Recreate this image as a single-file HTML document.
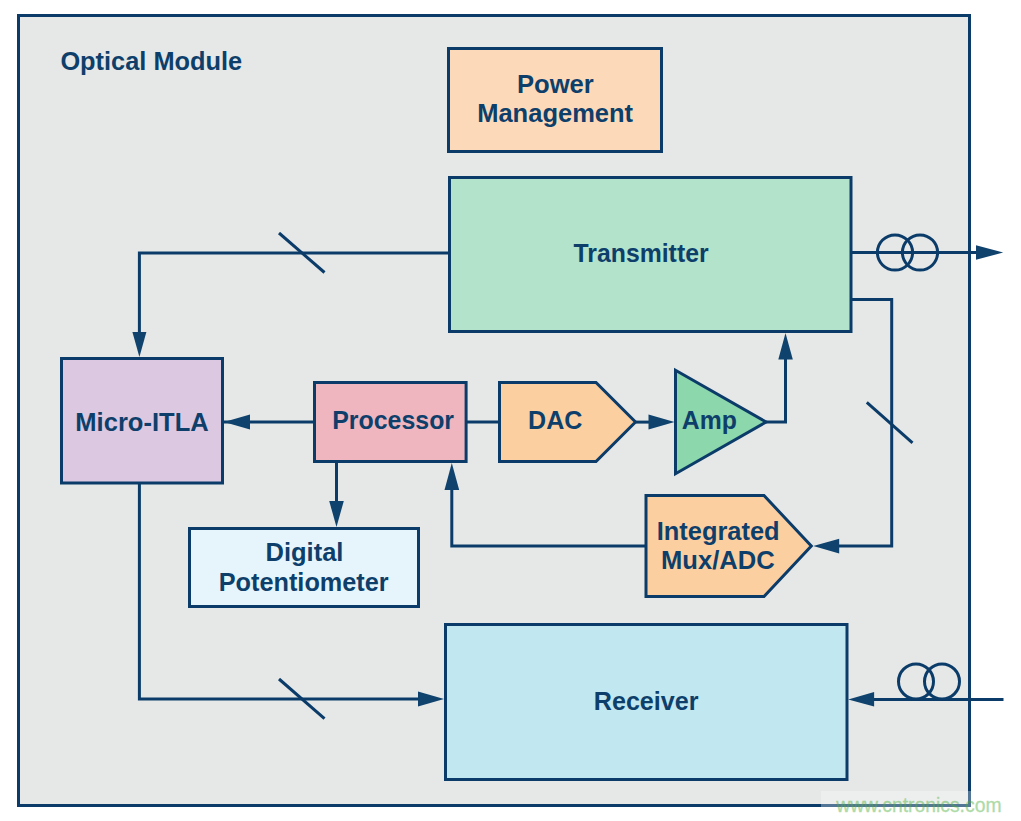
<!DOCTYPE html>
<html><head><meta charset="utf-8">
<style>
html,body{margin:0;padding:0;background:#fff;}
body{width:1021px;height:821px;overflow:hidden;position:relative;}
svg{position:absolute;left:0;top:0;}
text{font-family:"Liberation Sans",sans-serif;font-weight:bold;fill:#0e3f6b;}
</style></head><body>
<svg width="1021" height="821" viewBox="0 0 1021 821">
<g stroke="#0b3c69" stroke-width="3" stroke-linejoin="miter" fill="none">
  <!-- outer frame -->
  <rect x="18.5" y="15.5" width="951" height="790" fill="#e6e8e8"/>
  <!-- boxes -->
  <rect x="448.5" y="48.5" width="213" height="103" fill="#fcdab9"/>
  <rect x="449.5" y="177.5" width="401.5" height="154" fill="#b3e4cb"/>
  <rect x="61.5" y="358.5" width="161" height="124.5" fill="#dcc8e0"/>
  <rect x="314.5" y="382.5" width="151.6" height="79" fill="#efb6c0"/>
  <path d="M499.5,382.5 L596,382.5 L635.5,422 L596,461.5 L499.5,461.5 Z" fill="#fccfa1"/>
  <path d="M675.5,370.3 L766.2,422 L675.5,473.7 Z" fill="#8cd7ab"/>
  <rect x="189.5" y="528.5" width="229" height="78" fill="#e6f5fb"/>
  <path d="M646,495.5 L764,495.5 L811.3,546.1 L764,596.5 L646,596.5 Z" fill="#fccfa1"/>
  <rect x="445.5" y="624.5" width="401.5" height="155" fill="#c1e8f1"/>
  <!-- lines -->
  <polyline points="449.5,253 139.4,253 139.4,340"/>
  <line x1="279" y1="233" x2="324.5" y2="272.5"/>
  <line x1="224" y1="422" x2="314.5" y2="422"/>
  <line x1="466" y1="422" x2="499.5" y2="422"/>
  <line x1="635.5" y1="422.1" x2="660" y2="422.1"/>
  <polyline points="766,422 785.5,422 785.5,345"/>
  <line x1="336.5" y1="461.5" x2="336.5" y2="515"/>
  <polyline points="646,546.1 451.8,546.1 451.8,475"/>
  <polyline points="851,299.5 891.7,299.5 891.7,546.1 826,546.1"/>
  <line x1="866.8" y1="402.4" x2="912.5" y2="442.8"/>
  <polyline points="139.4,483 139.4,699 430,699"/>
  <line x1="279" y1="679" x2="324.5" y2="718.7"/>
  <line x1="851" y1="252.5" x2="985" y2="252.5"/>
  <line x1="860" y1="699.4" x2="1003.5" y2="699.4"/>
  <circle cx="895" cy="252.5" r="17.6"/>
  <circle cx="920" cy="252.5" r="17.6"/>
  <circle cx="916" cy="681.5" r="17.5"/>
  <circle cx="942" cy="681.5" r="17.5"/>
</g>
<g fill="#0f426d" stroke="none">
  <!-- arrowheads -->
  <path d="M139.4,357 L132.4,332 L146.4,332 Z"/>
  <path d="M224,422 L250,414.5 L250,429.5 Z"/>
  <path d="M674.5,422.1 L648.5,414.6 L648.5,429.6 Z"/>
  <path d="M785.5,333 L778.3,359.5 L792.8,359.5 Z"/>
  <path d="M336.5,527 L329.2,501 L343.8,501 Z"/>
  <path d="M451.8,463 L444.5,490 L459.2,490 Z"/>
  <path d="M813.3,546.1 L839.2,538.7 L839.2,553.6 Z"/>
  <path d="M444,699 L418,691.5 L418,706.5 Z"/>
  <path d="M1003.2,252.5 L976,245.2 L976,259.8 Z"/>
  <path d="M848.2,699.4 L874.1,692 L874.1,706.6 Z"/>
</g>
<g font-size="25">
  <text x="60.4" y="69.8" textLength="181.8" lengthAdjust="spacingAndGlyphs">Optical Module</text>
  <text x="555.35" y="92.8" text-anchor="middle" textLength="76.9" lengthAdjust="spacingAndGlyphs">Power</text>
  <text x="555.15" y="121.5" text-anchor="middle" textLength="155.9" lengthAdjust="spacingAndGlyphs">Management</text>
  <text x="641.05" y="261.6" text-anchor="middle" textLength="135.1" lengthAdjust="spacingAndGlyphs">Transmitter</text>
  <text x="142.05" y="431.3" text-anchor="middle" textLength="133.4" lengthAdjust="spacingAndGlyphs">Micro-ITLA</text>
  <text x="393.15" y="428.8" text-anchor="middle" textLength="121.8" lengthAdjust="spacingAndGlyphs">Processor</text>
  <text x="555.25" y="428.7" text-anchor="middle" textLength="54.3" lengthAdjust="spacingAndGlyphs">DAC</text>
  <text x="709.3" y="428.7" text-anchor="middle" textLength="55" lengthAdjust="spacingAndGlyphs">Amp</text>
  <text x="304.45" y="560.9" text-anchor="middle" textLength="77.9" lengthAdjust="spacingAndGlyphs">Digital</text>
  <text x="303.7" y="590.5" text-anchor="middle" textLength="169.9" lengthAdjust="spacingAndGlyphs">Potentiometer</text>
  <text x="718.2" y="539.7" text-anchor="middle" textLength="122.9" lengthAdjust="spacingAndGlyphs">Integrated</text>
  <text x="717.85" y="569.4" text-anchor="middle" textLength="113.6" lengthAdjust="spacingAndGlyphs">Mux/ADC</text>
  <text x="646.15" y="709.5" text-anchor="middle" textLength="104.75" lengthAdjust="spacingAndGlyphs">Receiver</text>
</g>
<rect x="821" y="791" width="200" height="30" fill="#ffffff" fill-opacity="0.3"/>
<g opacity="0.45"><text x="836.2" y="812" font-size="19.3" textLength="165.3" lengthAdjust="spacingAndGlyphs" style="font-weight:normal;fill:#4caf3c;stroke:#4caf3c;stroke-width:0.3">www.cntronics.com</text></g>
</svg>
</body></html>
